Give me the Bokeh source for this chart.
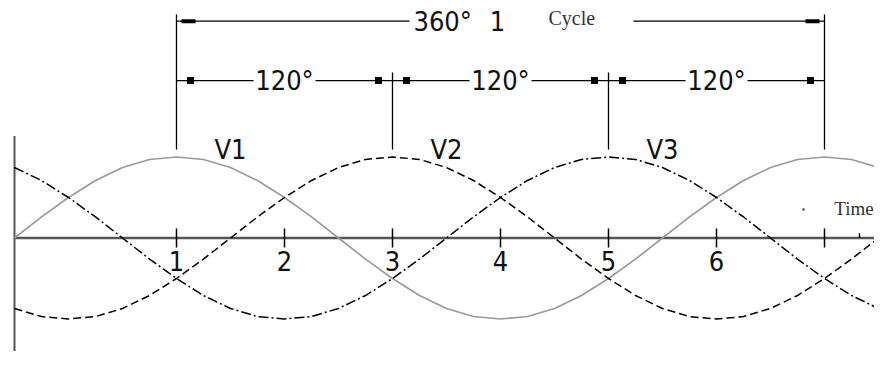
from bokeh.plotting import figure
from bokeh.models import Range1d
from bokeh.core.properties import value
from bokeh.embed import file_html
from bokeh.resources import INLINE

# ---- data (time in tick units, voltage in peak units) ----
time = [-0.5, -0.25, 0.0, 0.25, 0.5, 0.75, 1.0, 1.25, 1.5, 1.75, 2.0, 2.25, 2.5,
        2.75, 3.0, 3.25, 3.5, 3.75, 4.0, 4.25, 4.5, 4.75, 5.0, 5.25, 5.5, 5.75,
        6.0, 6.25, 6.5, 6.75, 7.0, 7.25, 7.5]
v1 = [0.0, 0.26, 0.5, 0.71, 0.87, 0.97, 1.0, 0.97, 0.87, 0.71, 0.5, 0.26, 0.0,
      -0.26, -0.5, -0.71, -0.87, -0.97, -1.0, -0.97, -0.87, -0.71, -0.5, -0.26,
      0.0, 0.26, 0.5, 0.71, 0.87, 0.97, 1.0, 0.97, 0.87]
v2 = [-0.87, -0.97, -1.0, -0.97, -0.87, -0.71, -0.5, -0.26, 0.0, 0.26, 0.5, 0.71,
      0.87, 0.97, 1.0, 0.97, 0.87, 0.71, 0.5, 0.26, 0.0, -0.26, -0.5, -0.71,
      -0.87, -0.97, -1.0, -0.97, -0.87, -0.71, -0.5, -0.26, 0.0]
v3 = [0.87, 0.71, 0.5, 0.26, 0.0, -0.26, -0.5, -0.71, -0.87, -0.97, -1.0, -0.97,
      -0.87, -0.71, -0.5, -0.26, 0.0, 0.26, 0.5, 0.71, 0.87, 0.97, 1.0, 0.97,
      0.87, 0.71, 0.5, 0.26, 0.0, -0.26, -0.5, -0.71, -0.87]
tick_values = [1, 2, 3, 4, 5, 6, 7]
tick_labels = ["1", "2", "3", "4", "5", "6", ""]
phase_names = ["V1", "V2", "V3"]
sector_labels = ["120°", "120°", "120°"]
cycle_deg = "360°"
cycle_count = "1"
cycle_word = "Cycle"
axis_word = "Time"

CAD = value("'Liberation Sans Narrow', 'DejaVu Sans Condensed', 'Liberation Sans', sans-serif")
SERIF = value("Liberation Serif")
CAD_SIZE = "27px"

p = figure(width=874, height=351, output_backend="svg", toolbar_location=None,
           x_range=Range1d(-0.62963, 7.46296), y_range=Range1d(-1.40123, 2.93210),
           min_border=0, outline_line_color=None)
p.axis.visible = False
p.grid.visible = False
p.background_fill_color = "white"
p.border_fill_color = "white"

t0, t1 = time[0], time[-1]

# axes
p.segment(x0=[t0], y0=[-1.6], x1=[t0], y1=[1.26], line_color="#555555", line_width=2)
p.segment(x0=[t0], y0=[0], x1=[t1], y1=[0], line_color="#555555", line_width=2.5)
p.segment(x0=tick_values, y0=[-0.117] * len(tick_values), x1=tick_values,
          y1=[0.117] * len(tick_values), line_color="black", line_width=1.5)
p.segment(x0=[7.324], y0=[0.0], x1=[7.324], y1=[0.06], line_color="black", line_width=1.5)
p.text(x=tick_values, y=[-0.29] * len(tick_values), text=tick_labels,
       text_align="center", text_baseline="middle", text_font=CAD,
       text_font_size=CAD_SIZE, text_color="#111111")

# waves
p.line(time, v1, line_color="#9a9a9a", line_width=1.6)
p.line(time, v2, line_color="black", line_width=1.5, line_dash="8 4")
p.line(time, v3, line_color="black", line_width=1.5, line_dash="10 3 2 3")

# peaks from data
peaks = sorted(set([t for t, a in zip(time, v1) if a == 1.0] +
                   [t for t, a in zip(time, v2) if a == 1.0] +
                   [t for t, a in zip(time, v3) if a == 1.0]))

# phase labels next to their peaks
p.text(x=[pk + 0.5 for pk in peaks[:3]], y=[1.09] * 3, text=phase_names,
       text_align="center", text_baseline="middle", text_font=CAD,
       text_font_size=CAD_SIZE, text_color="#111111")

# dimension lines
row1, row2, vbot = 2.677, 1.944, 1.093
p.segment(x0=[peaks[0], peaks[-1]], y0=[vbot, vbot], x1=[peaks[0], peaks[-1]],
          y1=[2.759, 2.759], line_color="black", line_width=1.3)
p.segment(x0=peaks[1:3], y0=[vbot, vbot], x1=peaks[1:3], y1=[2.043, 2.043],
          line_color="black", line_width=1.3)

# row 1: 360 deg
p.segment(x0=[peaks[0], 5.231], y0=[row1, row1], x1=[3.157, peaks[-1]], y1=[row1, row1],
          line_color="black", line_width=1.3)
p.rect(x=[peaks[0] + 0.111, peaks[-1] - 0.111], y=[row1, row1], width=14, height=4,
       width_units="screen", height_units="screen", fill_color="black", line_color=None)
p.text(x=[3.194], y=[row1], text=[cycle_deg], text_align="left", text_baseline="middle",
       text_font=CAD, text_font_size=CAD_SIZE, text_color="#111111")
p.text(x=[3.972], y=[row1], text=[cycle_count], text_align="center", text_baseline="middle",
       text_font=CAD, text_font_size=CAD_SIZE, text_color="#111111")
p.text(x=[4.444], y=[2.72], text=[cycle_word], text_align="left", text_baseline="middle",
       text_font=SERIF, text_font_size="20px", text_color="#333333")

# row 2: 120 deg sectors
mids = [(a + b) / 2 for a, b in zip(peaks[:-1], peaks[1:])]
gap = 0.287
p.segment(x0=peaks[:-1] + [m + gap for m in mids], y0=[row2] * 6,
          x1=[m - gap for m in mids] + peaks[1:], y1=[row2] * 6,
          line_color="black", line_width=1.3)
sq_x = [peaks[0] + 0.13, peaks[1] - 0.13, peaks[1] + 0.13, peaks[2] - 0.13,
        peaks[2] + 0.13, peaks[3] - 0.13]
p.rect(x=sq_x, y=[row2] * 6, width=7, height=7, width_units="screen",
       height_units="screen", fill_color="black", line_color=None)
p.text(x=mids, y=[row2] * 3, text=sector_labels, text_align="center",
       text_baseline="middle", text_font=CAD, text_font_size=CAD_SIZE, text_color="#111111")

# time label
p.scatter(x=[6.806], y=[0.352], size=2, color="#666666")
p.text(x=[7.09], y=[0.364], text=[axis_word], text_align="left", text_baseline="middle",
       text_font=SERIF, text_font_size="19px", text_color="#333333")

open("out.html", "w").write(file_html(p, INLINE))
